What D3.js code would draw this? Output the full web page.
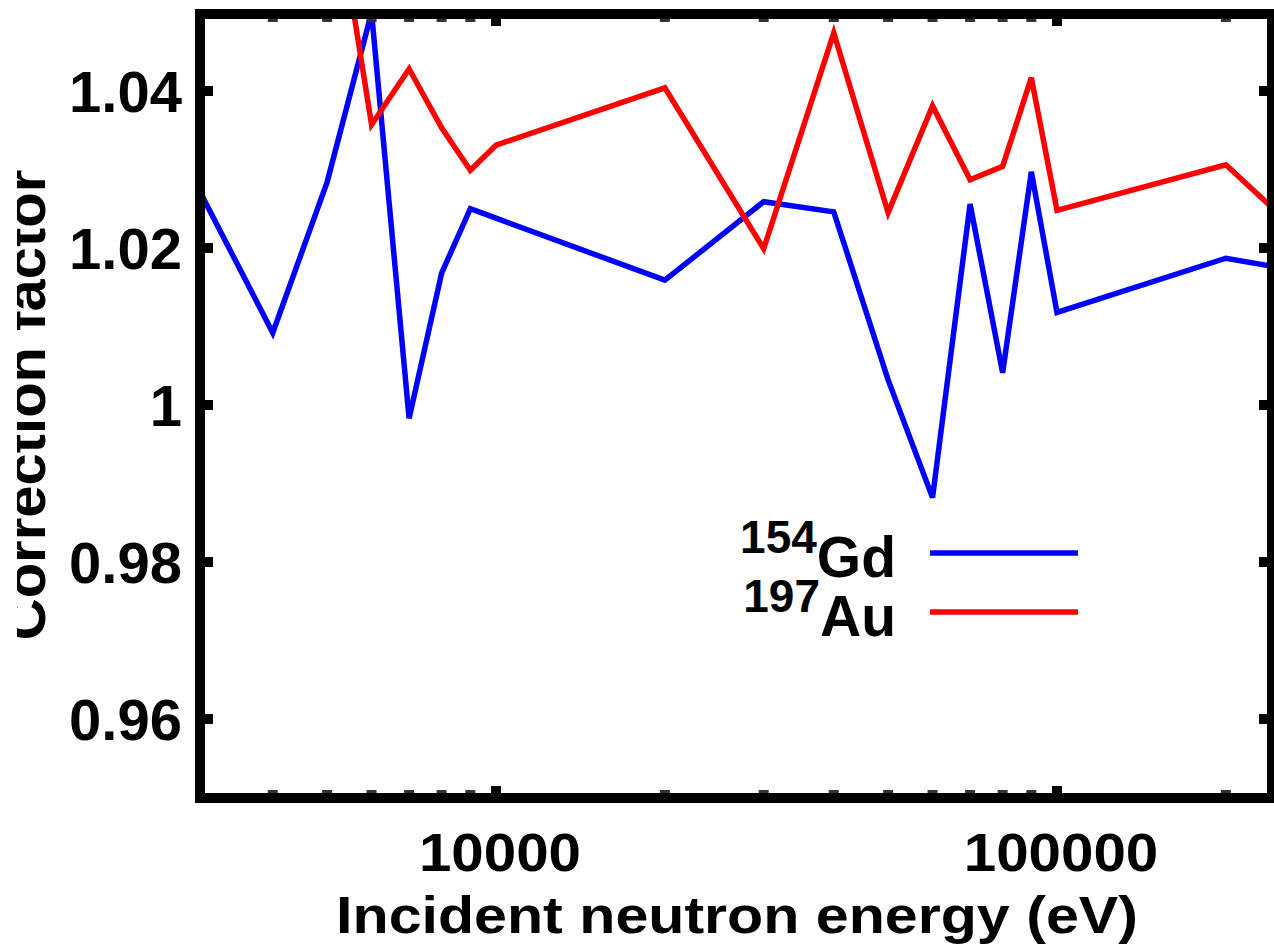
<!DOCTYPE html>
<html>
<head>
<meta charset="utf-8">
<script src="https://cdn.jsdelivr.net/npm/d3@7"></script>
<style>
  html, body { margin: 0; padding: 0; background: #fff; overflow: hidden; }
  text { font-family: "Liberation Sans", Arial, Helvetica, sans-serif; font-weight: bold; fill: #000; }
</style>
</head>
<body>
<svg id="chart" width="1274" height="949"></svg>
<script>
// energies (eV) and correction factors
const energyGd = [3000, 4000, 5000, 6000, 7000, 8000, 9000, 10000, 20000, 30000, 40000,
  50000, 60000, 70000, 80000, 90000, 100000, 200000, 250000];
const gd154 = [1.0265, 1.0092, 1.0284, 1.0500, 0.9983, 1.0168, 1.0250, 1.0238, 1.0159, 1.0259, 1.0246,
  1.0032, 0.9882, 1.0256, 1.0041, 1.0297, 1.0118, 1.0187, 1.0175];

const energyAu = [5000, 6000, 7000, 8000, 9000, 10000, 20000, 30000, 40000,
  50000, 60000, 70000, 80000, 90000, 100000, 200000, 250000];
const au197 = [1.0713, 1.0357, 1.0428, 1.0353, 1.0299, 1.0331, 1.0404, 1.0199, 1.0474,
  1.0245, 1.0381, 1.0287, 1.0304, 1.0417, 1.0248, 1.0306, 1.0242];

const yTicks = [0.96, 0.98, 1, 1.02, 1.04];
const yTickLabels = ['0.96', '0.98', '1', '1.02', '1.04'];
const xMajorTicks = [10000, 100000];
const xMinorTicks = [3000, 4000, 5000, 6000, 7000, 8000, 9000,
  20000, 30000, 40000, 50000, 60000, 70000, 80000, 90000, 200000];

const svg = d3.select('#chart');

const plotLeft = 200, plotRight = 1272, plotTop = 14, plotBottom = 798;

const x = d3.scaleLog().domain([1e4, 1e5]).range([496, 1057]);
const y = d3.scaleLinear().domain([0.95, 1.05]).range([797.5, 12.5]);

svg.append('clipPath').attr('id', 'plotclip')
  .append('rect').attr('x', plotLeft).attr('y', plotTop)
  .attr('width', plotRight - plotLeft).attr('height', plotBottom - plotTop);

const line = d3.line()
  .x(d => x(d[0]))
  .y(d => y(d[1]));

const plot = svg.append('g').attr('clip-path', 'url(#plotclip)');

plot.append('path')
  .datum(d3.zip(energyGd, gd154))
  .attr('d', line)
  .attr('fill', 'none')
  .attr('stroke', '#0000ff')
  .attr('stroke-width', 5.5)
  .attr('stroke-linejoin', 'miter');

plot.append('path')
  .datum(d3.zip(energyAu, au197))
  .attr('d', line)
  .attr('fill', 'none')
  .attr('stroke', '#ff0000')
  .attr('stroke-width', 5.5)
  .attr('stroke-linejoin', 'miter');

// ticks (mirrored on both sides like gnuplot)
const ticks = svg.append('g').attr('stroke', '#000').attr('stroke-width', 10);
yTicks.forEach(v => {
  ticks.append('line').attr('x1', plotLeft).attr('x2', plotLeft + 13).attr('y1', y(v)).attr('y2', y(v));
  ticks.append('line').attr('x1', plotRight).attr('x2', plotRight - 13).attr('y1', y(v)).attr('y2', y(v));
});
xMajorTicks.forEach(v => {
  ticks.append('line').attr('x1', x(v)).attr('x2', x(v)).attr('y1', plotBottom).attr('y2', plotBottom - 12);
  ticks.append('line').attr('x1', x(v)).attr('x2', x(v)).attr('y1', plotTop).attr('y2', plotTop + 12);
});
xMinorTicks.filter(v => x(v) > plotLeft + 6).forEach(v => {
  ticks.append('line').attr('x1', x(v)).attr('x2', x(v)).attr('y1', plotBottom).attr('y2', plotBottom - 8).attr('stroke', '#333');
  ticks.append('line').attr('x1', x(v)).attr('x2', x(v)).attr('y1', plotTop).attr('y2', plotTop + 8).attr('stroke', '#333');
});

// border
svg.append('rect')
  .attr('x', plotLeft).attr('y', plotTop)
  .attr('width', plotRight - plotLeft).attr('height', plotBottom - plotTop)
  .attr('fill', 'none')
  .attr('stroke', '#000')
  .attr('stroke-width', 10);

// tick labels
svg.append('g').selectAll('text')
  .data(yTicks)
  .join('text')
  .attr('x', 182)
  .attr('y', d => y(d) + 21)
  .attr('text-anchor', 'end')
  .attr('font-size', 58)
  .text((d, i) => yTickLabels[i]);

// the original output is a bit wider than tall along the bottom axis
svg.append('g').selectAll('text')
  .data(xMajorTicks)
  .join('text')
  .attr('transform', d => `translate(${x(d) + 4},871) scale(1.1,1)`)
  .attr('text-anchor', 'middle')
  .attr('font-size', 53)
  .text(d => d3.format('d')(d));

// axis titles
svg.append('text')
  .attr('transform', 'translate(737,933) scale(1.16,1)')
  .attr('text-anchor', 'middle')
  .attr('font-size', 51)
  .text('Incident neutron energy (eV)');

svg.append('clipPath').attr('id', 'ytitleclip')
  .append('rect').attr('x', 17).attr('y', 0).attr('width', 100).attr('height', 949);

svg.append('g').attr('clip-path', 'url(#ytitleclip)')
  .append('text')
  .attr('transform', 'translate(45,405) rotate(-90)')
  .attr('text-anchor', 'middle')
  .attr('font-size', 58)
  .text('Correction factor');

// legend
const legend = [
  { mass: '154', name: 'Gd', color: '#0000ff' },
  { mass: '197', name: 'Au', color: '#ff0000' }
];
const lg = svg.append('g');
legend.forEach((d, i) => {
  const by = 577 + i * 59;
  const t = lg.append('text')
    .attr('x', 896)
    .attr('y', by)
    .attr('text-anchor', 'end')
    .attr('font-size', 57);
  t.append('tspan').attr('font-size', 46).attr('dy', -24).text(d.mass);
  t.append('tspan').attr('dy', 24).text(d.name);
  lg.append('line')
    .attr('x1', 930).attr('x2', 1078)
    .attr('y1', by - 24).attr('y2', by - 24)
    .attr('stroke', d.color)
    .attr('stroke-width', 5.5);
});
</script>
</body>
</html>
